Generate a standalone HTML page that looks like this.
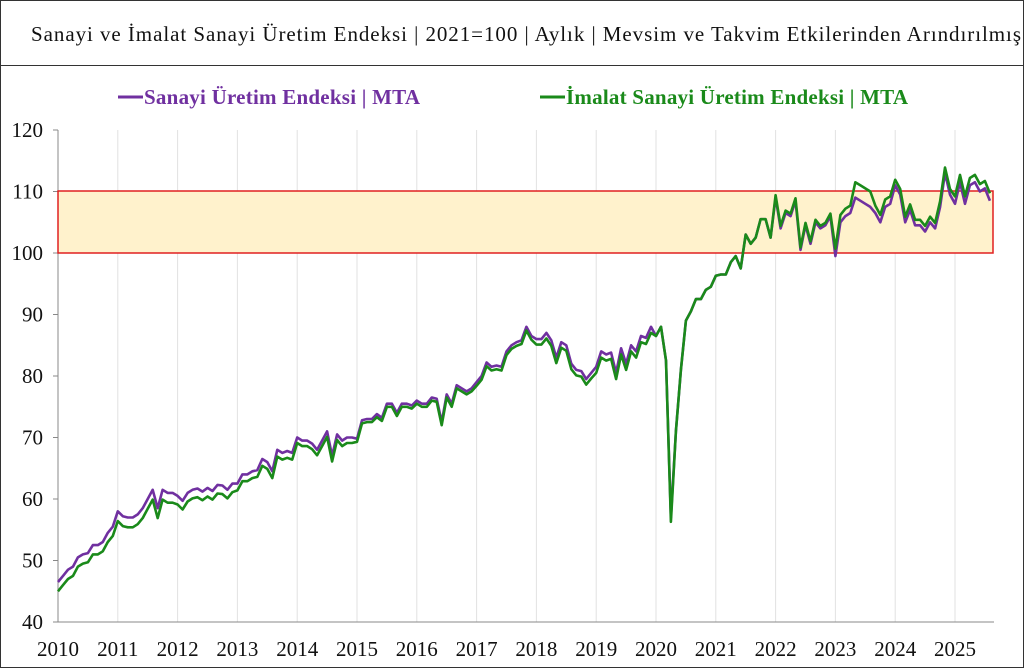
<!DOCTYPE html>
<html><head><meta charset="utf-8"><style>
body{margin:0;background:#fff;}
svg{display:block;font-family:"Liberation Serif",serif;}
</style></head><body>
<svg id="s" width="1024" height="668" xmlns="http://www.w3.org/2000/svg">
<rect x="0.5" y="0.5" width="1023" height="667" fill="#fff" stroke="#333"/>
<line x1="0" y1="65.5" x2="1024" y2="65.5" stroke="#333"/>
<text x="526" y="41" font-size="21" text-anchor="middle" fill="#111" textLength="990" lengthAdjust="spacing">Sanayi ve İmalat Sanayi Üretim Endeksi  | 2021=100 | Aylık | Mevsim ve Takvim Etkilerinden Arındırılmış</text>
<line x1="118" y1="97" x2="143" y2="97" stroke="#7030a0" stroke-width="3"/>
<text x="144" y="104" font-size="21" font-weight="bold" fill="#7030a0" textLength="276" lengthAdjust="spacing">Sanayi Üretim Endeksi | MTA</text>
<line x1="540" y1="97" x2="565" y2="97" stroke="#1a8a1a" stroke-width="3"/>
<text x="566" y="104" font-size="21" font-weight="bold" fill="#1a8a1a" textLength="342" lengthAdjust="spacing">İmalat Sanayi Üretim Endeksi | MTA</text>
<g id="grid"></g>
<rect x="58" y="191" width="935" height="62" fill="#fff2cc" stroke="#e02020" stroke-width="1.5"/>
<g id="lines"></g>
<g id="lab" font-size="21" fill="#111"></g>
</svg>
<script>
var P=[46.5,47.5,48.5,49,50.5,51,51.2,52.5,52.5,53,54.5,55.5,
58,57.2,57,57,57.5,58.5,60,61.5,58.5,61.5,61,61,
60.5,59.7,61,61.5,61.7,61.2,61.8,61.3,62.3,62.2,61.5,62.5,
62.5,64,64,64.5,64.7,66.5,66,64.5,68,67.5,67.8,67.5,
70,69.5,69.5,69,68,69.5,71,67,70.5,69.5,70,70,
69.8,72.8,73,73,73.8,73.2,75.5,75.5,74,75.5,75.5,75.2,
76,75.5,75.5,76.5,76.3,72.5,77,75.5,78.5,78,77.5,78,
79,80,82.2,81.5,81.7,81.5,84,85,85.5,85.8,88,86.5,
86,86,87,85.8,83,85.5,85,82,81,80.8,79.5,80.5,
81.5,84,83.5,83.8,80.5,84.5,82,85,84,86.5,86.2,88,
82.5,88,82.5,57,71,81,89,90.5,92.5,92.5,94,94.5,
96.3,96.5,96.5,98.5,99.5,97.5,103,101.5,102.5,105.5,105.5,102.5,
109,104,106.5,106,108.5,100.5,104.5,101.5,105,104,104.5,106,
99.5,105,106,106.5,109,108.5,108,107.5,106.5,105,107.5,108,
111,109.5,105,107,104.5,104.5,103.5,105,104,107.5,113,109.5,
108,111.5,108,111,111.5,110,110.5,108.5];
P[120]=86.5;
var off={2010:-1.5,2011:-1.6,2012:-1.4,2013:-1.1,2014:-0.9,2015:-0.5,2016:-0.5,2017:-0.6,2018:-0.9,2019:-1,2020:0,2021:0,2022:0.4,2023:1.2,2024:0.9,2025:1.2};
var G=P.map(function(v,i){var y=2010+Math.floor(i/12);var o=off[y];if(y==2020&&i%12==3)o=-0.7;if(y==2023&&i%12>=4&&i%12<=7)o=2.5;return v+o;});
function X(i){return 58+i*59.8/12;}
function Y(v){return 622-(v-40)*6.15;}
var ns="http://www.w3.org/2000/svg";
function el(p,t,a){var e=document.createElementNS(ns,t);for(var k in a)e.setAttribute(k,a[k]);p.appendChild(e);return e;}
var grid=document.getElementById('grid'),lab=document.getElementById('lab'),ln=document.getElementById('lines');
for(var y=2010;y<=2025;y++){var x=58+(y-2010)*59.8;
 if(y>2010)el(grid,'line',{x1:x,y1:130,x2:x,y2:622,stroke:'#e2e2e2'});
 var t=el(lab,'text',{x:x,y:656,'text-anchor':'middle'});t.textContent=y;}
el(grid,'line',{x1:58,y1:130,x2:58,y2:622,stroke:'#888'});
el(grid,'line',{x1:58,y1:622,x2:994,y2:622,stroke:'#888'});
for(var v=40;v<=120;v+=10){var yy=Y(v);el(grid,'line',{x1:53,y1:yy,x2:58,y2:yy,stroke:'#888'});
 var t=el(lab,'text',{x:43,y:yy+7,'text-anchor':'end'});t.textContent=v;}
function path(a,c){var d=a.map(function(v,i){return (i?'L':'M')+X(i).toFixed(1)+','+Y(v).toFixed(1);}).join('');
 el(ln,'path',{d:d,fill:'none',stroke:c,'stroke-width':2.6,'stroke-linejoin':'round'});}
path(P,'#7030a0');path(G,'#1a8a1a');
</script>
</body></html>
